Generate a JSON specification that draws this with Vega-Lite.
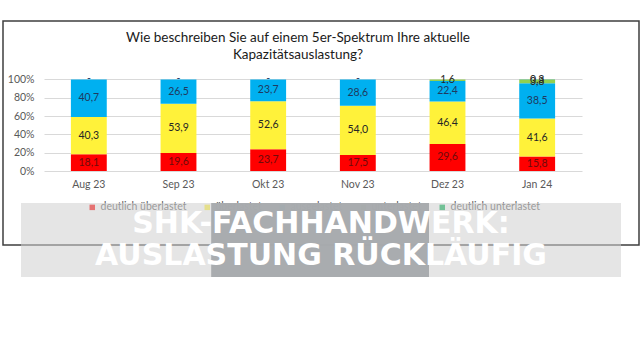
{
  "$schema": "https://vega.github.io/schema/vega-lite/v6.json",
  "background": "white",
  "padding": {"left": 2, "top": 20, "right": 2, "bottom": 0},
  "config": {
    "locale": {"number": {"decimal": ",", "thousands": ".", "grouping": [3], "currency": ["", " €"]}},
    "font": "Lato"
  },
  "bounds": "flush",
  "spacing": 0,
  "center": true,
  "resolve": {"legend": {"color": "independent"}},
  "vconcat": [
    {
      "width": 636,
      "height": 182,
      "view": {"stroke": null},
      "title": {
        "text": ["Wie beschreiben Sie auf einem 5er-Spektrum Ihre aktuelle", "Kapazitätsauslastung?"],
        "orient": "top",
        "anchor": "middle",
        "offset": -41,
        "dx": -23,
        "font": "Lato",
        "fontSize": 13.5,
        "fontWeight": "normal",
        "color": "#1a1a1a",
        "lineHeight": 17
      },
      "data": {
        "values": [
          {"monat": "Aug 23", "kategorie": "deutlich überlastet", "wert": 18.1},
          {"monat": "Aug 23", "kategorie": "überlastet", "wert": 40.3},
          {"monat": "Aug 23", "kategorie": "ausgelastet", "wert": 40.7},
          {"monat": "Aug 23", "kategorie": "unterlastet", "wert": 0},
          {"monat": "Sep 23", "kategorie": "deutlich überlastet", "wert": 19.6},
          {"monat": "Sep 23", "kategorie": "überlastet", "wert": 53.9},
          {"monat": "Sep 23", "kategorie": "ausgelastet", "wert": 26.5},
          {"monat": "Sep 23", "kategorie": "unterlastet", "wert": 0},
          {"monat": "Okt 23", "kategorie": "deutlich überlastet", "wert": 23.7},
          {"monat": "Okt 23", "kategorie": "überlastet", "wert": 52.6},
          {"monat": "Okt 23", "kategorie": "ausgelastet", "wert": 23.7},
          {"monat": "Okt 23", "kategorie": "unterlastet", "wert": 0},
          {"monat": "Nov 23", "kategorie": "deutlich überlastet", "wert": 17.5},
          {"monat": "Nov 23", "kategorie": "überlastet", "wert": 54.0},
          {"monat": "Nov 23", "kategorie": "ausgelastet", "wert": 28.6},
          {"monat": "Nov 23", "kategorie": "unterlastet", "wert": 0},
          {"monat": "Dez 23", "kategorie": "deutlich überlastet", "wert": 29.6},
          {"monat": "Dez 23", "kategorie": "überlastet", "wert": 46.4},
          {"monat": "Dez 23", "kategorie": "ausgelastet", "wert": 22.4},
          {"monat": "Dez 23", "kategorie": "unterlastet", "wert": 1.6},
          {"monat": "Jan 24", "kategorie": "deutlich überlastet", "wert": 15.8},
          {"monat": "Jan 24", "kategorie": "überlastet", "wert": 41.6},
          {"monat": "Jan 24", "kategorie": "ausgelastet", "wert": 38.5},
          {"monat": "Jan 24", "kategorie": "unterlastet", "wert": 3.8},
          {"monat": "Jan 24", "kategorie": "deutlich unterlastet", "wert": 0.3}
        ]
      },
      "layer": [
        {
          "data": {"values": [{"rahmen": "Rahmen"}]},
          "mark": {"type": "rect", "fillOpacity": 0, "stroke": "#3f3f3f", "strokeWidth": 1.5},
          "encoding": {
            "y": {
              "datum": -0.8087,
              "type": "quantitative",
              "scale": {"domain": [-0.3497, 1.6393], "nice": false, "zero": false},
              "axis": {
                "title": null,
                "values": [0, 0.2, 0.4, 0.6, 0.8, 1],
                "format": ".0%",
                "domain": false,
                "ticks": false,
                "grid": true,
                "gridColor": "#d9d9d9",
                "gridWidth": 1,
                "labelFont": "Lato",
                "labelFontSize": 10.5,
                "labelColor": "#595959",
                "labelPadding": 3,
                "offset": -34
              }
            },
            "y2": {"datum": 1.6393}
          }
        },
        {
          "transform": [
            {"stack": "wert", "groupby": ["monat"], "offset": "normalize", "as": ["y0", "y1"]}
          ],
          "mark": {"type": "bar"},
          "encoding": {
            "x": {
              "field": "monat",
              "type": "nominal",
              "sort": null,
              "scale": {"range": [41, 579], "paddingInner": 0.6, "paddingOuter": 0.3},
              "axis": {
                "title": null,
                "orient": "bottom",
                "offset": -32,
                "domain": false,
                "ticks": false,
                "grid": false,
                "labelAngle": 0,
                "labelFont": "Lato",
                "labelFontSize": 10.5,
                "labelColor": "#595959",
                "labelPadding": 8
              }
            },
            "y": {
              "field": "y0",
              "type": "quantitative",
              "scale": {"domain": [-0.3497, 1.6393], "nice": false, "zero": false},
              "axis": {
                "title": null,
                "values": [0, 0.2, 0.4, 0.6, 0.8, 1],
                "format": ".0%",
                "domain": false,
                "ticks": false,
                "grid": true,
                "gridColor": "#d9d9d9",
                "gridWidth": 1,
                "labelFont": "Lato",
                "labelFontSize": 10.5,
                "labelColor": "#595959",
                "labelPadding": 3,
                "offset": -34
              }
            },
            "y2": {"field": "y1"},
            "color": {
              "field": "kategorie",
              "type": "nominal",
              "scale": {
                "domain": ["deutlich überlastet", "überlastet", "ausgelastet", "unterlastet", "deutlich unterlastet"],
                "range": ["#FF0000", "#FFF23A", "#00B0F0", "#92D050", "#00B050"]
              },
              "legend": {
                "title": null,
                "orient": "none",
                "legendX": 84,
                "legendY": 181,
                "direction": "horizontal",
                "columns": 5,
                "symbolType": "square",
                "symbolSize": 30,
                "symbolStrokeWidth": 0,
                "labelFont": "Lato",
                "labelFontSize": 10.5,
                "labelColor": "#595959",
                "columnPadding": 15,
                "labelOffset": 3
              }
            }
          }
        },
        {
          "transform": [
            {"stack": "wert", "groupby": ["monat"], "offset": "normalize", "as": ["y0", "y1"]},
            {"calculate": "(datum.y0 + datum.y1) / 2", "as": "ymid"}
          ],
          "mark": {"type": "text", "font": "Lato", "fontSize": 10.5, "baseline": "middle"},
          "encoding": {
            "x": {
              "field": "monat",
              "type": "nominal",
              "sort": null,
              "scale": {"range": [41, 579], "paddingInner": 0.6, "paddingOuter": 0.3},
              "axis": {
                "title": null,
                "orient": "bottom",
                "offset": -32,
                "domain": false,
                "ticks": false,
                "grid": false,
                "labelAngle": 0,
                "labelFont": "Lato",
                "labelFontSize": 10.5,
                "labelColor": "#595959",
                "labelPadding": 8
              }
            },
            "y": {
              "field": "ymid",
              "type": "quantitative",
              "scale": {"domain": [-0.3497, 1.6393], "nice": false, "zero": false},
              "axis": {
                "title": null,
                "values": [0, 0.2, 0.4, 0.6, 0.8, 1],
                "format": ".0%",
                "domain": false,
                "ticks": false,
                "grid": true,
                "gridColor": "#d9d9d9",
                "gridWidth": 1,
                "labelFont": "Lato",
                "labelFontSize": 10.5,
                "labelColor": "#595959",
                "labelPadding": 3,
                "offset": -34
              }
            },
            "text": {"condition": {"test": "datum.wert == 0", "value": "-"}, "field": "wert", "type": "quantitative", "format": ".1f"},
            "color": {
              "condition": [
                {"test": "datum.kategorie === 'deutlich überlastet'", "value": "#6e0b0b"},
                {"test": "datum.kategorie === 'ausgelastet' || (datum.kategorie === 'unterlastet' && datum.wert == 0)", "value": "#1f3a60"}
              ],
              "value": "#262626"
            }
          }
        }
      ]
    },
    {
      "width": 600,
      "height": 74,
      "view": {"fill": "#cfcfcf", "fillOpacity": 0.55, "stroke": null},
      "layer": [
        {
          "data": {"values": [{"bereich": "Mitte"}]},
          "mark": {"type": "rect", "color": "#a7aaad", "opacity": 0.96},
          "encoding": {
            "x": {"datum": 0.317, "type": "quantitative", "scale": {"domain": [0, 1], "nice": false, "zero": false}, "axis": null},
            "x2": {"datum": 0.68}
          }
        },
        {
          "data": {"values": [{"zeile": 1, "titel": "SHK-FACHHANDWERK:"}, {"zeile": 2, "titel": "AUSLASTUNG RÜCKLÄUFIG"}]},
          "mark": {"type": "text", "font": "DejaVu Sans", "fontWeight": "bold", "fontSize": 30, "color": "white", "baseline": "middle"},
          "encoding": {
            "y": {"field": "zeile", "type": "ordinal", "scale": {"type": "point", "padding": 0.656}, "axis": null},
            "text": {"field": "titel"}
          }
        }
      ]
    }
  ]
}
